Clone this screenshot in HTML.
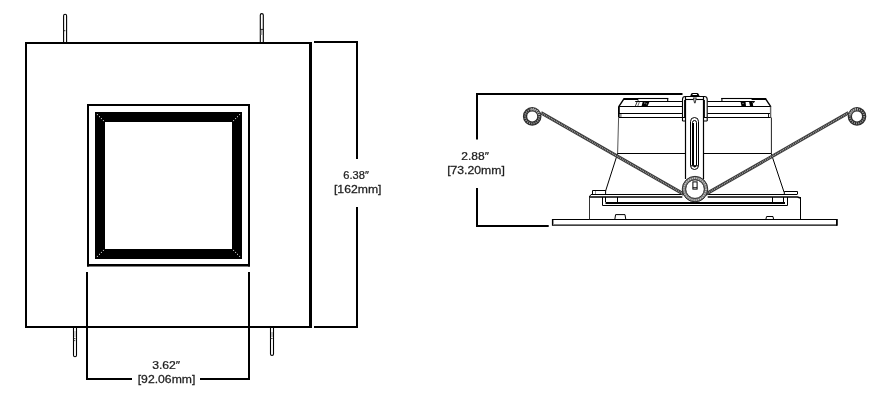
<!DOCTYPE html>
<html><head><meta charset="utf-8"><style>
html,body{margin:0;padding:0;background:#fff;}
svg{display:block;font-family:"Liberation Sans",sans-serif;}
.t{filter:grayscale(1);}
</style></head><body>
<svg width="877" height="402" viewBox="0 0 877 402">
<rect width="877" height="402" fill="#fff"/>
<path d="M25,43 H312 M26,42 V328 M25,327 H312" fill="none" stroke="#000" stroke-width="2" />
<path d="M310.5,42 V328" fill="none" stroke="#000" stroke-width="3" />
<path d="M87,105 H250 M88,104 V266.5 M249,104 V266.5" fill="none" stroke="#000" stroke-width="2" />
<path d="M87,265.25 H250" fill="none" stroke="#000" stroke-width="2.5" />
<rect x="100" y="117" width="137" height="137" fill="none" stroke="#000" stroke-width="10"/>
<rect x="96.9" y="114.1" width="1" height="1" fill="#ddd"/>
<rect x="99.0" y="116.2" width="1" height="1" fill="#ddd"/>
<rect x="100.9" y="118.1" width="1" height="1" fill="#ddd"/>
<rect x="102.9" y="120.1" width="1" height="1" fill="#ddd"/>
<rect x="239.1" y="114.1" width="1" height="1" fill="#ddd"/>
<rect x="237.0" y="116.2" width="1" height="1" fill="#ddd"/>
<rect x="235.1" y="118.1" width="1" height="1" fill="#ddd"/>
<rect x="233.1" y="120.1" width="1" height="1" fill="#ddd"/>
<rect x="96.9" y="255.9" width="1" height="1" fill="#ddd"/>
<rect x="99.0" y="253.8" width="1" height="1" fill="#ddd"/>
<rect x="100.9" y="251.9" width="1" height="1" fill="#ddd"/>
<rect x="102.9" y="249.9" width="1" height="1" fill="#ddd"/>
<rect x="239.1" y="255.9" width="1" height="1" fill="#ddd"/>
<rect x="237.0" y="253.8" width="1" height="1" fill="#ddd"/>
<rect x="235.1" y="251.9" width="1" height="1" fill="#ddd"/>
<rect x="233.1" y="249.9" width="1" height="1" fill="#ddd"/>
<path d="M63.6,42 L63.6,15.8 Q63.6,14.3 65.1,14.3 Q66.6,14.3 66.6,15.8 L66.6,42" fill="none" stroke="#000" stroke-width="1.1" />
<path d="M63.6,30.7 H65.4" fill="none" stroke="#222" stroke-width="0.9" />
<path d="M260.3,42 L260.3,15.1 Q260.3,13.6 261.8,13.6 Q263.3,13.6 263.3,15.1 L263.3,42" fill="none" stroke="#000" stroke-width="1.1" />
<rect x="260.8" y="30" width="2" height="5" fill="#aaa"/>
<path d="M260.3,29.4 H263.3" fill="none" stroke="#111" stroke-width="0.9" />
<path d="M73.5,328 L73.5,355.3 Q73.5,356.8 75.0,356.8 Q76.5,356.8 76.5,355.3 L76.5,328" fill="none" stroke="#000" stroke-width="1.1" />
<rect x="74" y="331" width="2" height="6" fill="#ccc"/>
<path d="M73.5,338.6 H75.5 M73.5,340.6 H75.3" fill="none" stroke="#222" stroke-width="0.8" />
<path d="M270.5,328 L270.5,353.9 Q270.5,355.4 272.0,355.4 Q273.5,355.4 273.5,353.9 L273.5,328" fill="none" stroke="#000" stroke-width="1.1" />
<rect x="271" y="332" width="2" height="5" fill="#bbb"/>
<path d="M270.5,338.5 H272.6" fill="none" stroke="#333" stroke-width="0.8" />
<path d="M314,42 H358 M357,41 V159 M357,207 V328 M314,327 H358" fill="none" stroke="#000" stroke-width="2" />
<text class="t" transform="translate(343.34,178.7) scale(1.0293,1)" font-size="10.8" fill="#1e1e1e" stroke="#1e1e1e" stroke-width="0.25">6.38″</text>
<text class="t" transform="translate(333.93,192.7) scale(1.1341,1)" font-size="10.8" fill="#1e1e1e" stroke="#1e1e1e" stroke-width="0.25">[162mm]</text>
<path d="M87,272 V380 M249,272 V380 M86,379 H132 M200,379 H250" fill="none" stroke="#000" stroke-width="2" />
<text class="t" transform="translate(152.13,368.7) scale(1.1308,1)" font-size="10.8" fill="#1e1e1e" stroke="#1e1e1e" stroke-width="0.25">3.62″</text>
<text class="t" transform="translate(137.73,383) scale(1.1297,1)" font-size="10.8" fill="#1e1e1e" stroke="#1e1e1e" stroke-width="0.25">[92.06mm]</text>
<path d="M476,94 H682.5 M477,93 V139.5 M477,188 V227 M476,226 H548.7" fill="none" stroke="#000" stroke-width="2" />
<text class="t" transform="translate(461.30,160.2) scale(1.1121,1)" font-size="10.8" fill="#1e1e1e" stroke="#1e1e1e" stroke-width="0.25">2.88″</text>
<text class="t" transform="translate(447.13,173.9) scale(1.1318,1)" font-size="10.8" fill="#1e1e1e" stroke="#1e1e1e" stroke-width="0.25">[73.20mm]</text>
<path d="M552.5,219.5 H837" fill="none" stroke="#000" stroke-width="1" />
<path d="M552.5,225.1 H837" fill="none" stroke="#000" stroke-width="1.3" />
<path d="M552.5,219 V225.7" fill="none" stroke="#000" stroke-width="1.2" />
<path d="M553.5,220 V224.5" fill="none" stroke="#999" stroke-width="1" />
<path d="M836.9,219 V225.7" fill="none" stroke="#000" stroke-width="1.8" />
<path d="M614.8,219.5 L615.6,214.6 H625 L625.8,219.5" fill="none" stroke="#000" stroke-width="1" />
<path d="M765.8,219.5 L766.6,216.5 H773 L773.6,219.5" fill="none" stroke="#000" stroke-width="1" />
<path d="M589.5,196 V219.5" fill="none" stroke="#333" stroke-width="1" />
<path d="M800.5,197 V219.5" fill="none" stroke="#000" stroke-width="1" />
<path d="M589.5,197 H682.3 M707.7,197 H797.5 L800.5,198" fill="none" stroke="#000" stroke-width="1.6" />
<path d="M591,194.5 H682.1 M707.9,194.5 H797" fill="none" stroke="#000" stroke-width="1" />
<path d="M591,194.5 L589.5,196.5" fill="none" stroke="#000" stroke-width="1" />
<path d="M592.5,194 V190.5 H605.6 L605.6,194" fill="none" stroke="#000" stroke-width="1" />
<path d="M595.5,191 V194" fill="none" stroke="#777" stroke-width="0.8" />
<path d="M784.3,194 V191.5 H797.5 V194.5" fill="none" stroke="#000" stroke-width="1" />
<path d="M602.5,197 V205.5 H787.5 V197" fill="none" stroke="#000" stroke-width="1" />
<path d="M605.5,203 H785" fill="none" stroke="#000" stroke-width="2" />
<path d="M605.5,197 V202 M617.5,197 V202 M772.5,197 V202 M783.5,197 V202" fill="none" stroke="#000" stroke-width="1" />
<path d="M605.6,191 L617.6,153.5" fill="none" stroke="#000" stroke-width="1" />
<path d="M617.6,153.5 L618.6,117.5" fill="none" stroke="#555" stroke-width="1" />
<path d="M784,192 L771.2,153.5" fill="none" stroke="#000" stroke-width="1" />
<path d="M771.4,153.5 V117.5" fill="none" stroke="#222" stroke-width="1" />
<path d="M617.3,153.5 H685.5 M703.5,153.5 H771.4" fill="none" stroke="#000" stroke-width="1.1" />
<path d="M619,117.5 H682.5 M707.5,117.5 H771" fill="none" stroke="#000" stroke-width="1" />
<path d="M619,113.5 H682.5 M707.5,113.5 H771" fill="none" stroke="#000" stroke-width="1" />
<path d="M619,106.5 H682.5 M707.5,106.5 H771" fill="none" stroke="#000" stroke-width="1" />
<path d="M618.9,106.2 V117.5" fill="none" stroke="#000" stroke-width="1.8" />
<path d="M770.6,106.2 V117.5" fill="none" stroke="#666" stroke-width="1.4" />
<path d="M620.8,114 V117 M768.5,114 V117" fill="none" stroke="#000" stroke-width="0.9" />
<rect x="619.6" y="114" width="1.2" height="3" fill="#aaa"/>
<path d="M618.8,106.6 L623.9,98.9" fill="none" stroke="#000" stroke-width="1.4" />
<path d="M623.4,99 H638" fill="none" stroke="#000" stroke-width="2" />
<path d="M637.5,98.5 H668.2" fill="none" stroke="#000" stroke-width="1.1" />
<path d="M667.7,98 V101.5" fill="none" stroke="#000" stroke-width="1.1" />
<path d="M635.2,101.5 H682.5" fill="none" stroke="#000" stroke-width="1" />
<path d="M638.2,101.2 Q637.8,100.4 638.5,99.6" fill="none" stroke="#000" stroke-width="0.8" />
<path d="M642.8,101.4 H649.6 L647.6,106 H641.6 Z" fill="#000"/>
<rect x="644.2" y="102.6" width="1.2" height="0.9" fill="#ddd"/>
<rect x="646.2" y="103.4" width="0.9" height="0.9" fill="#ccc"/>
<path d="M637.2,101.6 L635.4,106" fill="none" stroke="#222" stroke-width="0.9" />
<path d="M639.4,101.8 L637.8,106" fill="none" stroke="#444" stroke-width="0.8" />
<path d="M770.8,106.6 L765.6,98.9" fill="none" stroke="#000" stroke-width="1.4" />
<path d="M766.2,99 H751.6" fill="none" stroke="#000" stroke-width="2" />
<path d="M752.1,98.5 H721.3" fill="none" stroke="#000" stroke-width="1.1" />
<path d="M721.9,98 V101.5" fill="none" stroke="#000" stroke-width="1.1" />
<path d="M754.6,101.5 H707.5" fill="none" stroke="#000" stroke-width="1" />
<path d="M740.5,101.4 H745.5 L746,106 H741.5 Z" fill="#000"/>
<path d="M749,101.6 H752.5 L753.2,106 H750 Z" fill="#000"/>
<rect x="742.5" y="103" width="1" height="0.9" fill="#ccc"/>
<path d="M754.8,101.5 L752.5,103.4" fill="none" stroke="#000" stroke-width="0.9" />
<path d="M682.5,121 V99.3 Q682.5,96.5 685.3,96.5 H704.4 Q707.2,96.5 707.2,99.3 V121" fill="none" stroke="#000" stroke-width="1.1" />
<path d="M685.5,97 V179 M703.5,97 V179" fill="none" stroke="#000" stroke-width="1.2" />
<path d="M684.5,100 V117.5 M704.5,100 V117.5" fill="none" stroke="#000" stroke-width="0.9" />
<path d="M685.5,99.5 H703.5" fill="none" stroke="#000" stroke-width="1.1" />
<path d="M682.5,117.5 H685.5 M704,117.5 H707.2 M682.5,121 H685.5 M704,121 H707.2" fill="none" stroke="#000" stroke-width="1" />
<path d="M690,96.8 L690.9,94.2 Q691.3,93 692.6,93 H697 Q698.3,93 698.7,94.2 L699.9,96.8 Z" fill="#000"/>
<rect x="692.4" y="93.9" width="4.7" height="1.2" rx="0.6" fill="#fff"/>
<path d="M692.8,97.6 H696.8 L695.6,103.2 H694.1 Z" fill="#3a3a3a"/>
<path d="M693.9,98.4 H695.7 L695.1,101.5 H694.4 Z" fill="#bbb"/>
<path d="M690.5,165.5 V121.5 A4,4 0 0 1 698.5,121.5 V165.5 A4,4 0 0 1 690.5,165.5" fill="none" stroke="#000" stroke-width="1" />
<path d="M692.5,165.5 V122.5 A2,2 0 0 1 696.5,122.5 V165.5" fill="none" stroke="#000" stroke-width="1" />
<path d="M693.2,123 V165.5" fill="none" stroke="#000" stroke-width="1.6" />
<path d="M690.5,165.8 H698.5" fill="none" stroke="#000" stroke-width="1" />
<path d="M693,165.5 H696.4 Q696,167.6 694.7,167.6 Q693.4,167.6 693,165.5 Z" fill="#000"/>
<path d="M541,112.8 L684,194.3" fill="none" stroke="#3a3a3a" stroke-width="3.4" />
<path d="M541,112.8 L684,194.3" fill="none" stroke="#b4b4b4" stroke-width="1.5" stroke-dasharray="0.8 1.1"/>
<path d="M848.5,112.8 L705.5,194.3" fill="none" stroke="#3a3a3a" stroke-width="3.4" />
<path d="M848.5,112.8 L705.5,194.3" fill="none" stroke="#b4b4b4" stroke-width="1.5" stroke-dasharray="0.8 1.1"/>
<circle cx="532.2" cy="116.4" r="7.15" fill="none" stroke="#2e2e2e" stroke-width="4.3"/>
<circle cx="532.2" cy="116.4" r="7.1" fill="none" stroke="#a0a0a0" stroke-width="1.8" stroke-dasharray="1 1.2"/>
<circle cx="857" cy="116.4" r="7.15" fill="none" stroke="#2e2e2e" stroke-width="4.3"/>
<circle cx="857" cy="116.4" r="7.1" fill="none" stroke="#a0a0a0" stroke-width="1.8" stroke-dasharray="1 1.2"/>
<path d="M530.96,109.36 A7.15,7.15 0 0 1 539.24,115.16" fill="none" stroke="#b0b0b0" stroke-width="2.6" stroke-dasharray="0.9 1.1"/>
<path d="M849.96,115.16 A7.15,7.15 0 0 1 858.24,109.36" fill="none" stroke="#b0b0b0" stroke-width="2.6" stroke-dasharray="0.9 1.1"/>
<circle cx="695" cy="189.1" r="11" fill="#fff" stroke="#7a7a7a" stroke-width="3.6"/>
<circle cx="695" cy="189.1" r="11" fill="none" stroke="#d0d0d0" stroke-width="1.6" stroke-dasharray="0.9 1.3"/>
<circle cx="695" cy="189.1" r="12.75" fill="none" stroke="#222" stroke-width="0.9"/>
<circle cx="695" cy="189.1" r="9.3" fill="none" stroke="#222" stroke-width="0.9"/>
<rect x="692.9" y="181.9" width="4.2" height="7.2" fill="none" stroke="#000" stroke-width="1"/>
<path d="M692.9,187.6 H697.1" fill="none" stroke="#000" stroke-width="0.8" />
</svg>
</body></html>
